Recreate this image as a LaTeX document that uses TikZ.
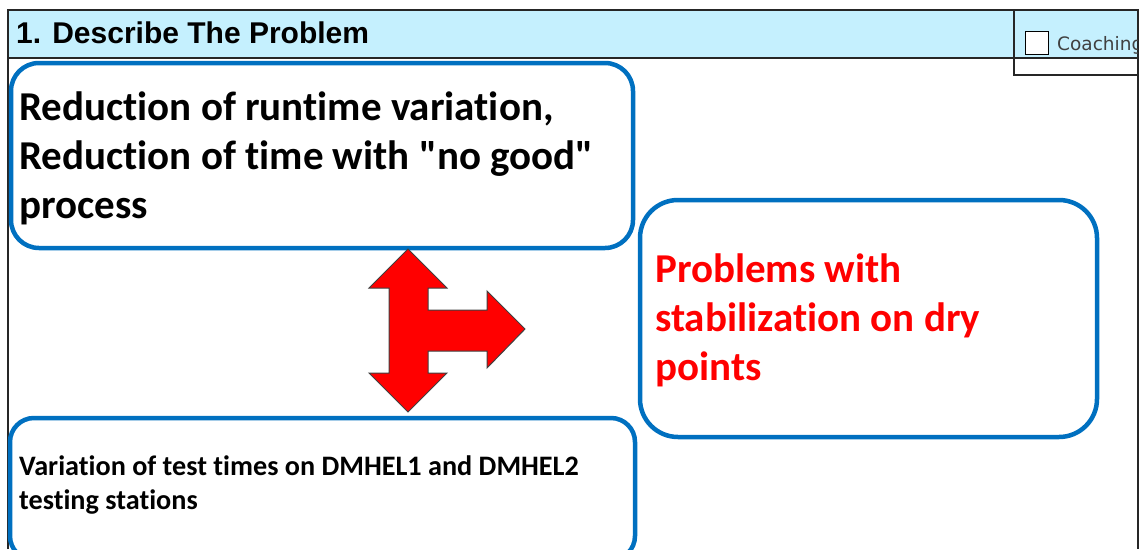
\documentclass[tikz,border=0pt]{standalone}
\usepackage{fontspec}
\newfontfamily\calib{Carlito}[Ligatures={TeXOff,NoCommon}]
\newfontfamily\arialf{Liberation Sans}
\newfontfamily\tahf{DejaVu Sans}
\definecolor{hdrblue}{HTML}{C5F0FE}
\definecolor{boxblue}{HTML}{0070C0}
\definecolor{redtxt}{HTML}{FF0000}
\definecolor{framegray}{HTML}{262626}
\begin{document}
\begin{tikzpicture}[x=1pt,y=-1pt,
  frameline/.style={draw=framegray, line width=1.4pt},
  probbox/.style={draw=boxblue, line width=4.5pt, fill=white},
  boxtext/.style={anchor=base west, align=left, inner sep=0pt, font=\calib\bfseries\fontsize{41}{49}\selectfont},
  smalltext/.style={anchor=base west, align=left, inner sep=0pt, font=\calib\bfseries\fontsize{28.2}{34}\selectfont},
  bigarrow/.style={fill=red, draw=black!75, line width=1pt, line join=miter}]
\useasboundingbox (0,0) rectangle (1146,549);
% header band and frame
\fill[hdrblue] (8,10) rectangle (1138,58);
\draw[frameline] (8,549) -- (8,10) -- (1138,10) -- (1138,549);
\draw[frameline] (8,58) -- (1138,58);
\draw[frameline] (1014,10) -- (1014,75) -- (1138,75);
\node[anchor=base west, inner sep=0pt, font=\arialf\bfseries\fontsize{30}{34}\selectfont] (title) at (16,43) {1. Describe The Problem};
\node[draw=black, line width=1.4pt, fill=white, minimum width=23pt, minimum height=23pt, inner sep=0pt] (chk) at (1037,43) {};
\begin{scope}
  \clip (1014,10) rectangle (1137,75);
  \node[anchor=base west, inner sep=0pt, text=black!75, font=\tahf\fontsize{18.5}{22}\selectfont] (coach) at (1057,50) {Coaching};
\end{scope}
% boxes
\draw[probbox, rounded corners=28pt] (11,63) rectangle (633,248);
\draw[probbox, rounded corners=38pt] (640,200) rectangle (1097,437);
\draw[probbox, rounded corners=24pt] (10,418) rectangle (635,560);
\node[boxtext] (goal) at (19,218) {Reduction of runtime variation,\\Reduction of time with "no good"\\process};
\node[boxtext, text=redtxt] (issue) at (655,380) {Problems with\\stabilization on dry\\points};
\node[smalltext] (cause) at (19,509) {Variation of test times on DMHEL1 and DMHEL2\\testing stations};
% three-way arrow
\draw[bigarrow] (408,249) -- (447,288) -- (428,288) -- (428,310) -- (487,310) -- (487,291)
  -- (525,329) -- (487,368) -- (487,351) -- (428,351) -- (428,373) -- (447,373)
  -- (408,412) -- (369,373) -- (389,373) -- (389,288) -- (369,288) -- cycle;
\end{tikzpicture}
\end{document}
